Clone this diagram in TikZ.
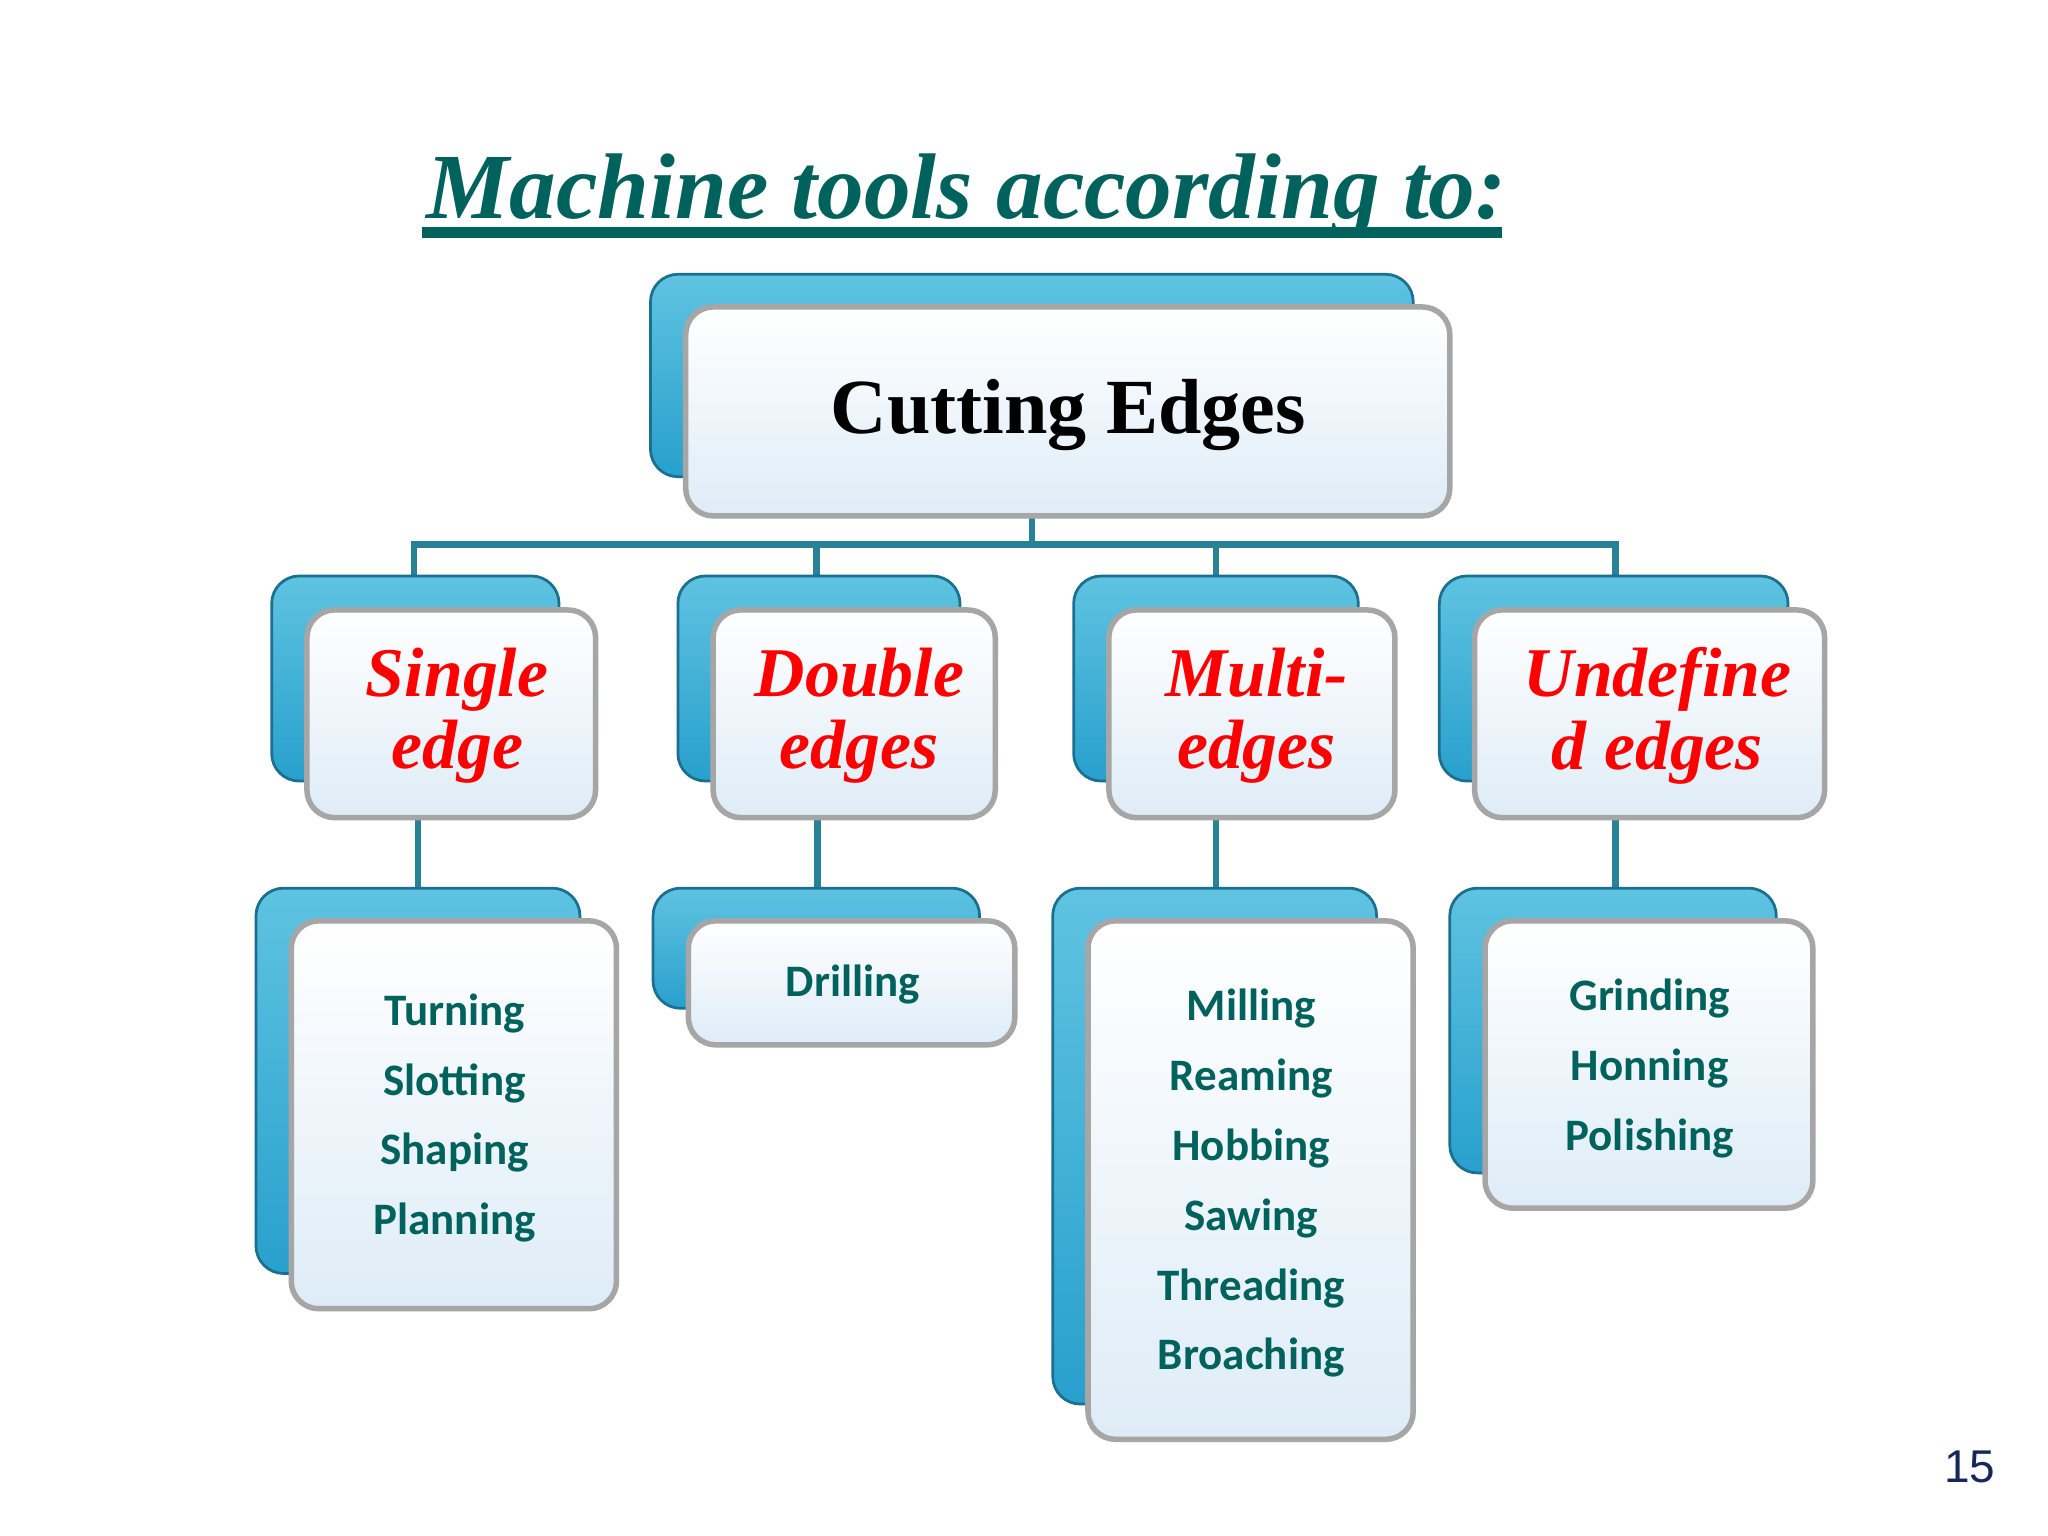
\documentclass[tikz,border=0pt]{standalone}
\usepackage{fontspec}
\setmainfont{Liberation Serif}
\newfontfamily\itemfont{Carlito}
\newfontfamily\numfont{Liberation Sans}
\definecolor{teal1}{RGB}{0,98,92}
\definecolor{blueA}{RGB}{40,160,205}
\definecolor{blueB}{RGB}{95,195,225}
\definecolor{frontB}{RGB}{222,236,247}
\definecolor{navy}{RGB}{20,40,90}
\definecolor{conn}{RGB}{40,130,150}
\tikzset{
 backbox/.style={draw=blueA!70!black,line width=0.6pt,rounded corners=6pt,top color=blueB,bottom color=blueA},
 frontbox/.style={draw=gray!70,line width=1.2pt,rounded corners=6pt,top color=white,bottom color=frontB},
 lvltwo/.style={font=\fontsize{15.2}{15.8}\selectfont\bfseries\itshape,text=red,align=center},
 items/.style={font=\itemfont\fontsize{9.8}{15.2}\selectfont\bfseries,text=teal1,align=center},
 link/.style={draw=conn,line width=1.4pt}
}
\begin{document}
\begin{tikzpicture}[x=0.01cm,y=-0.01cm]
\useasboundingbox (0,0) rectangle (1568,1176);
\fill[white] (0,0) rectangle (1568,1176);
% title
\node[font=\fontsize{20.3}{21}\selectfont\bfseries\itshape,text=teal1] (title) at (740,150) {Machine tools according to:};
\draw[teal1,line width=2.2pt] (323,178) -- (1150,178);
% connectors
\coordinate (h1) at (317,417); \coordinate (h4) at (1237,417);
\draw[link] (317,441) -- (h1) -- (h4) -- (1237,441);
\draw[link] (625,417) -- (625,441);
\draw[link] (931,417) -- (931,441);
\draw[link] (790,395) -- (790,417);
\draw[link] (320,626) -- (320,680);
\draw[link] (626,626) -- (626,680);
\draw[link] (931,626) -- (931,680);
\draw[link] (1237,626) -- (1237,680);
% top
\draw[backbox] (498,210) rectangle (1082,365);
\draw[frontbox] (525,235) rectangle (1110,395);
\node[font=\fontsize{17}{18}\selectfont\bfseries] (top) at (818,318) {Cutting Edges};
% level 2
\draw[backbox] (208,441) rectangle (428,598);
\draw[frontbox] (235,467) rectangle (456,626);
\node[lvltwo] (s) at (350,548) {Single\\edge};
\draw[backbox] (519,441) rectangle (735,598);
\draw[frontbox] (546,467) rectangle (762,626);
\node[lvltwo] (d) at (658,548) {Double\\edges};
\draw[backbox] (822,441) rectangle (1040,598);
\draw[frontbox] (849,467) rectangle (1068,626);
\node[lvltwo] (m) at (962,548) {Multi-\\edges};
\draw[backbox] (1102,441) rectangle (1369,598);
\draw[frontbox] (1129,467) rectangle (1397,626);
\node[lvltwo] (u) at (1269,548) {Undefine\\d edges};
% level 3
\draw[backbox] (196,680) rectangle (444,975);
\draw[frontbox] (223,705) rectangle (472,1002);
\node[items] (a1) at (348,856) {Turning\\Slotting\\Shaping\\Planning};
\draw[backbox] (500,680) rectangle (750,772);
\draw[frontbox] (527,705) rectangle (777,800);
\node[items] (a2) at (653,754) {Drilling};
\draw[backbox] (806,680) rectangle (1054,1075);
\draw[frontbox] (833,705) rectangle (1082,1102);
\node[items] (a3) at (958,906) {Milling\\Reaming\\Hobbing\\Sawing\\Threading\\Broaching};
\draw[backbox] (1110,680) rectangle (1360,898);
\draw[frontbox] (1137,705) rectangle (1388,925);
\node[items] (a4) at (1263,818) {Grinding\\Honning\\Polishing};
% page number
\node[font=\numfont\fontsize{10}{11}\selectfont,text=navy] (pn) at (1508,1123) {15};
\end{tikzpicture}
\end{document}
